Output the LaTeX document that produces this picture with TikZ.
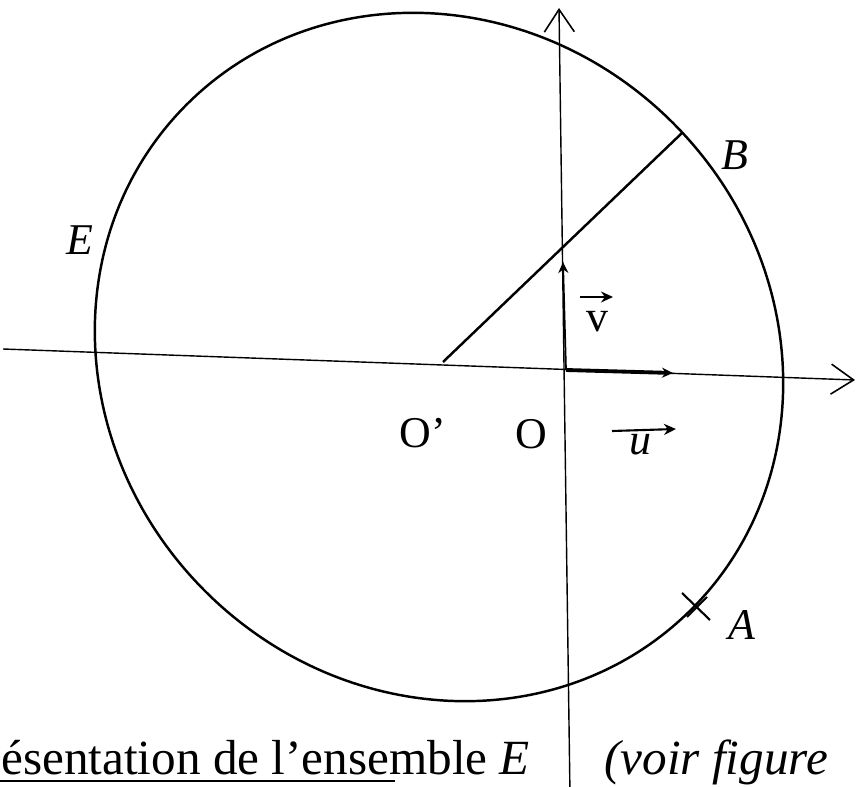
\documentclass[tikz,border=0pt]{standalone}
\usepackage{fontspec}
\setmainfont{Liberation Serif}
\usetikzlibrary{arrows.meta}

\begin{document}
\begin{tikzpicture}[
    x=0.02cm, y=-0.02cm,
    axis/.style={line width=0.8pt, -{Straight Barb[length=4.5mm, width=6mm, line width=0.9pt]}},
    curve/.style={line width=1.4pt},
    vect/.style={line width=1pt, -{Stealth[length=2.2mm, width=2mm]}},
    over/.style={line width=1.2pt, -{Stealth[length=2.4mm, width=2.2mm]}},
    lbl/.style={font=\fontsize{25}{30}\selectfont, inner sep=0pt},
    caption/.style={font=\fontsize{28}{32}\selectfont, inner sep=0pt, anchor=base west},
]
    \useasboundingbox (0,0) rectangle (856,787);
    \clip (0,0) rectangle (856,787);

    % Points
    \coordinate (Op) at (443,362);
    \coordinate (O) at (566,370);
    \coordinate (B) at (682,133);
    \coordinate (A) at (697,607);
    \coordinate (vtip) at (563,262);
    \coordinate (utip) at (673,373);

    % Axes
    \coordinate (xl) at (3,349);
    \coordinate (xr) at (855,380);
    \coordinate (yb) at (570,795);
    \coordinate (yt) at (559,8);
    \draw[axis] (xl) -- (xr);
    \draw[axis] (yb) -- (yt);

    % Circle
    \draw[curve, rotate around={-45:(439,357)}] (439,357) ellipse (7.14cm and 6.62cm);

    % Segment O'B
    \draw[curve] (Op) -- (B);

    % Vectors
    \draw[vect] (O) -- (vtip);
    \draw[vect, line width=2.2pt] (O) -- (utip);

    % Mark on A
    \draw[line width=1.2pt] ([shift={(-15,-14)}]A) -- ([shift={(13,13)}]A);
    \draw[line width=1.2pt] ([shift={(-10,10)}]A) -- ([shift={(10,-10)}]A);

    % Labels
    \node[lbl] (labOp) at (423,433) {O\textquoteright};
    \node[lbl] (labO) at (531,434) {O};
    \node[lbl] (labu) at (640,445) {\textit{u}};
    \node[lbl] (labv) at (597,322) {v};
    \node[lbl] (labB) at (735,155) {\textit{B}};
    \node[lbl] (labA) at (742,625) {\textit{A}};
    \node[lbl] (labE) at (80,240) {\textit{E}};
    \coordinate (uL) at (612,431);
    \coordinate (uR) at (676,429);
    \coordinate (vL) at (580,297);
    \coordinate (vR) at (613,297);
    \draw[over] (uL) -- (uR);
    \draw[over] (vL) -- (vR);

    % Text under the figure
    \node[caption] (cap1) at (1,774) {ésentation de l’ensemble \textit{E}};
    \node[caption] (cap2) at (604,774) {\textit{(voir figure}};
    \coordinate (ulA) at (0,781);
    \coordinate (ulB) at (395,781);
    \draw[line width=1pt] (ulA) -- (ulB);
\end{tikzpicture}
\end{document}
